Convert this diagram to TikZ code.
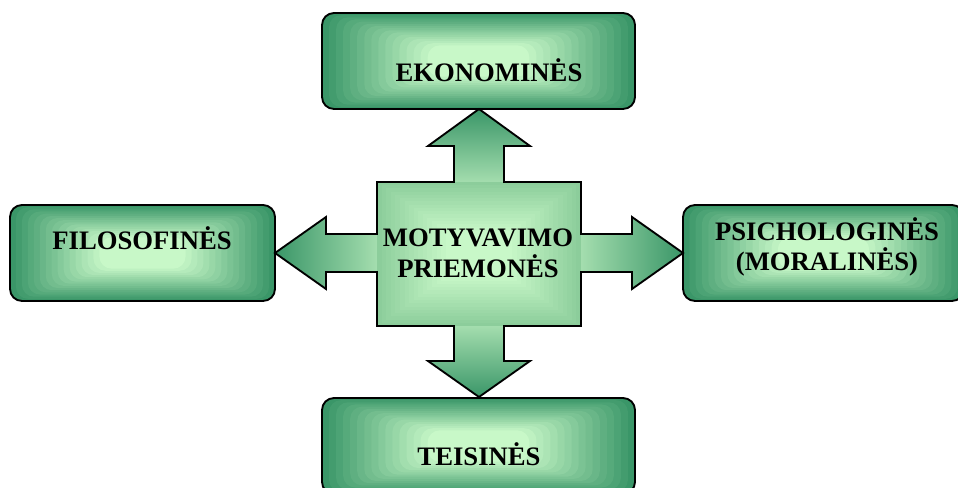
\documentclass[tikz,border=0pt]{standalone}
\usepackage{fontspec}
\setmainfont{Liberation Serif}
\definecolor{dk}{RGB}{58,150,104}
\definecolor{lt}{RGB}{200,248,200}
\definecolor{sqedge}{RGB}{140,205,155}
\definecolor{armid}{RGB}{165,222,175}
\newcommand\gradrect[7]{%
\foreach \i in {0,...,20}{%
 \pgfmathsetmacro\xa{#1+((#3-#1)/2)*0.9*\i/20}%
 \pgfmathsetmacro\xb{#3-((#3-#1)/2)*0.9*\i/20}%
 \pgfmathsetmacro\ya{#2+((#4-#2)/2)*0.9*\i/20}%
 \pgfmathsetmacro\yb{#4-((#4-#2)/2)*0.9*\i/20}%
 \pgfmathtruncatemacro\p{min(100,100*\i/15)}%
 \fill[lt!\p!#6, rounded corners=#5] (\xa,\ya) rectangle (\xb,\yb);
}}
\tikzset{
  outline/.style={draw=black, line width=1.4pt},
  lbl/.style={font=\fontsize{20pt}{23pt}\selectfont\bfseries, align=center, inner sep=0pt},
}
\begin{document}
\begin{tikzpicture}[x=0.75pt,y=-0.75pt]
\useasboundingbox (0,0) rectangle (958,488);
% boxes
\gradrect{322}{13}{635}{109}{9pt}{dk}{lt}
\draw[outline, rounded corners=9pt] (322,13) rectangle (635,109);
\gradrect{10}{205}{275}{301}{9pt}{dk}{lt}
\draw[outline, rounded corners=9pt] (10,205) rectangle (275,301);
\gradrect{683}{205}{964}{301}{9pt}{dk}{lt}
\draw[outline, rounded corners=9pt] (683,205) rectangle (964,301);
\gradrect{322}{398}{635}{494}{9pt}{dk}{lt}
\draw[outline, rounded corners=9pt] (322,398) rectangle (635,494);
% arrows
\shade[top color=dk, bottom color=armid] (454,183)--(454,146)--(428,146)--(479,109)--(530,146)--(504,146)--(504,183)--cycle;
\shade[top color=armid, bottom color=dk] (454,325)--(454,361)--(428,361)--(479,397)--(530,361)--(504,361)--(504,325)--cycle;
\shade[left color=dk, right color=armid] (378,234)--(326,234)--(326,217)--(275,253)--(326,289)--(326,272)--(378,272)--cycle;
\shade[left color=armid, right color=dk] (580,234)--(632,234)--(632,217)--(683,253)--(632,289)--(632,272)--(580,272)--cycle;
% centre square
\gradrect{377}{182}{581}{326}{0pt}{sqedge}{lt}
\draw[outline, line join=miter] (377,182) -- (454,182) -- (454,146) -- (428,146) -- (479,109) -- (530,146) -- (504,146) -- (504,182) -- (581,182) -- (581,234) -- (632,234) -- (632,217) -- (683,253) -- (632,289) -- (632,272) -- (581,272) -- (581,326) -- (504,326) -- (504,361) -- (530,361) -- (479,397) -- (428,361) -- (454,361) -- (454,326) -- (377,326) -- (377,272) -- (326,272) -- (326,289) -- (275,253) -- (326,217) -- (326,234) -- (377,234) -- cycle;
% labels
\node[lbl] (eko) at (489,70) {EKONOMINĖS};
\node[lbl] (fil) at (142,238) {FILOSOFINĖS};
\node[lbl] (psi) at (827,247) {PSICHOLOGINĖS\\(MORALINĖS)};
\node[lbl] (tei) at (479,454) {TEISINĖS};
\node[lbl] (mot) at (478,253) {MOTYVAVIMO\\PRIEMONĖS};
\end{tikzpicture}
\end{document}
